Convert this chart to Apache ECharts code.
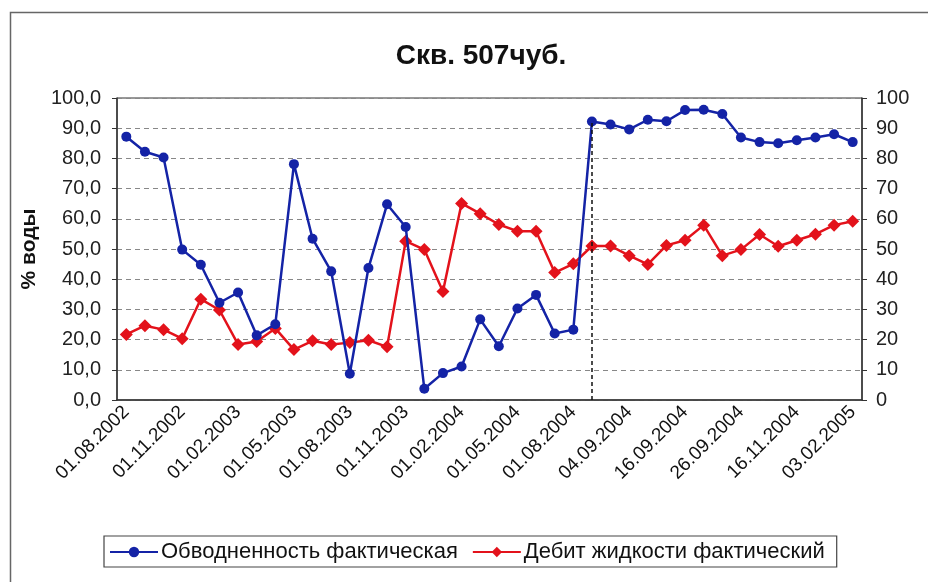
<!DOCTYPE html>
<html><head><meta charset="utf-8">
<script src="https://cdn.jsdelivr.net/npm/echarts@6/dist/echarts.min.js"></script>
<style>html,body{margin:0;padding:0;background:#fff}#c{width:928px;height:582px}</style>
</head><body><div id="c"></div>
<script>
const titleText = 'Скв. 507чуб.';
const leftAxisName = '% воды';
const seriesNames = ['Обводненность фактическая', 'Дебит жидкости фактический'];
const dates = [
  '01.08.2002','01.09.2002','01.10.2002','01.11.2002','01.12.2002','01.01.2003',
  '01.02.2003','01.03.2003','01.04.2003','01.05.2003','01.06.2003','01.07.2003',
  '01.08.2003','01.09.2003','01.10.2003','01.11.2003','01.12.2003','01.01.2004',
  '01.02.2004','01.03.2004','01.04.2004','01.05.2004','01.06.2004','01.07.2004',
  '01.08.2004','28.08.2004','01.09.2004','04.09.2004','08.09.2004','12.09.2004',
  '16.09.2004','19.09.2004','22.09.2004','26.09.2004','01.10.2004','16.10.2004',
  '16.11.2004','01.12.2004','01.01.2005','03.02.2005'
];
const waterCut = [
  87.2, 82.2, 80.3, 49.8, 44.8, 32.2, 35.6, 21.4, 25.1, 78.1,
  53.4, 42.6, 8.7, 43.7, 64.8, 57.3, 3.7, 8.9, 11.1, 26.7,
  17.8, 30.3, 34.8, 22.0, 23.3, 92.2, 91.2, 89.6, 92.8, 92.3,
  96.0, 96.1, 94.7, 86.9, 85.4, 85.0, 86.0, 86.9, 88.0, 85.4
];
const liquidRate = [
  21.7, 24.6, 23.3, 20.3, 33.4, 29.8, 18.4, 19.4, 23.7, 16.7,
  19.6, 18.4, 19.0, 19.8, 17.6, 52.6, 49.8, 35.9, 65.1, 61.7,
  58.1, 55.9, 55.9, 42.2, 45.1, 51.0, 51.0, 47.8, 44.9, 51.2,
  52.9, 57.9, 47.8, 49.8, 54.8, 50.9, 52.9, 54.9, 57.9, 59.2
];
const dropIndex = 25;

const FONT = '"Liberation Sans", Arial, sans-serif';
const chart = echarts.init(document.getElementById('c'), null, {renderer: 'canvas'});
chart.setOption({
  backgroundColor: '#fff',
  animation: false,
  graphic: [{
    type: 'rect', left: 8, top: 10, shape: {width: 940, height: 600},
    style: {fill: 'none', stroke: '#666', lineWidth: 1.5}, silent: true, z: -1
  }],
  title: {
    text: titleText, left: 476, top: 37, textAlign: 'center',
    textStyle: {fontFamily: FONT, fontSize: 28, fontWeight: 'bold', color: '#111'}
  },
  legend: {
    left: 104, top: 536, orient: 'horizontal',
    borderColor: '#444', borderWidth: 1.2, padding: [5, 12, 4, 5],
    itemWidth: 48, itemHeight: 13, itemGap: 14,
    textStyle: {fontFamily: FONT, fontSize: 22, color: '#111', padding: [0, 0, 0, -2]},
    data: seriesNames
  },
  grid: {left: 117, right: 66, top: 98, bottom: 182, show: true, borderColor: '#333', borderWidth: 1},
  xAxis: {
    type: 'category', data: dates, boundaryGap: true,
    axisLine: {lineStyle: {color: '#333', width: 1.5}},
    axisTick: {interval: 0, length: 5, lineStyle: {color: '#333'}},
    axisLabel: {interval: 2, rotate: 45, fontFamily: FONT, fontSize: 19, color: '#111', margin: 9}
  },
  yAxis: [{
    type: 'value', min: 0, max: 100, interval: 10,
    name: leftAxisName, nameLocation: 'middle', nameGap: 71, nameRotate: 90,
    nameTextStyle: {fontFamily: FONT, fontSize: 21, fontWeight: 'bold', color: '#111'},
    axisLine: {show: true, lineStyle: {color: '#333', width: 1.5}},
    axisTick: {show: true, length: 5, lineStyle: {color: '#333'}},
    axisLabel: {fontFamily: FONT, fontSize: 20, color: '#222', margin: 16,
      formatter: v => v.toFixed(1).replace('.', ',')},
    splitLine: {show: true, lineStyle: {color: '#888', type: [5, 4], width: 1}}
  }, {
    type: 'value', min: 0, max: 100, interval: 10, position: 'right',
    axisLine: {show: true, lineStyle: {color: '#333', width: 1.5}},
    axisTick: {show: true, length: 5, lineStyle: {color: '#333'}},
    axisLabel: {fontFamily: FONT, fontSize: 20, color: '#222', margin: 14},
    splitLine: {show: false}
  }],
  series: [{
    name: seriesNames[0], type: 'line', yAxisIndex: 0, data: waterCut,
    symbol: 'circle', symbolSize: 10, showAllSymbol: true,
    lineStyle: {color: '#1423a6', width: 2.5},
    itemStyle: {color: '#1423a6'},
    z: 3,
    markLine: {
      silent: true, symbol: 'none', label: {show: false},
      lineStyle: {color: '#111', type: [4, 3], width: 1.5},
      data: [[{coord: [dates[dropIndex], 0]}, {coord: [dates[dropIndex], waterCut[dropIndex]]}]]
    }
  }, {
    name: seriesNames[1], type: 'line', yAxisIndex: 1, data: liquidRate,
    symbol: 'diamond', symbolSize: 13, showAllSymbol: true,
    lineStyle: {color: '#e3121b', width: 2.5},
    itemStyle: {color: '#e3121b'},
    z: 2
  }]
});
</script></body></html>
